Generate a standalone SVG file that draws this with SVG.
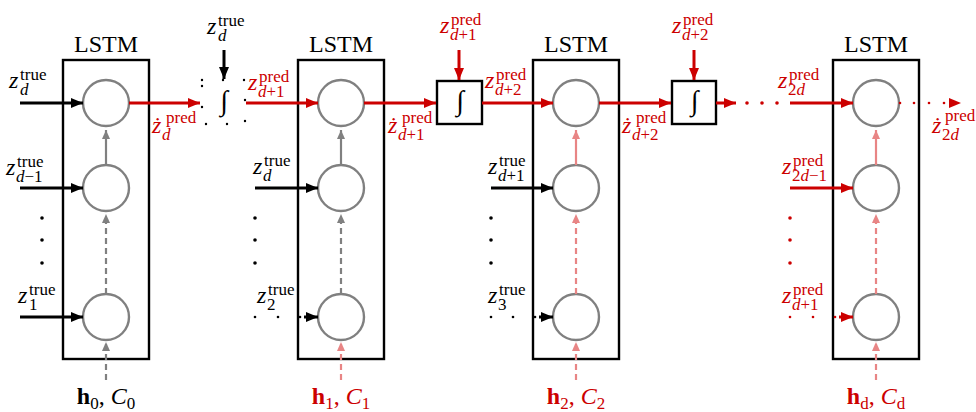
<svg xmlns="http://www.w3.org/2000/svg" width="976" height="412" viewBox="0 0 976 412">
<style>
text{font-family:"Liberation Serif","DejaVu Serif","Noto Serif",serif;fill:#000}
.t{font-size:24px}
.z{font-size:24px;font-style:italic}
.s{font-size:17px}
.i{font-style:italic}
.r{fill:#cc0000}
.box{fill:none;stroke:#000;stroke-width:2.4}
.cell{fill:#fff;stroke:#808080;stroke-width:2.4}
.bk{stroke:#000;stroke-width:3;fill:none}
.rd{stroke:#cc0000;stroke-width:3;fill:none}
.gy{stroke:#808080;stroke-width:2.2;fill:none}
.lr{stroke:#e88585;stroke-width:2.2;fill:none}
.da{stroke-dasharray:6 4}
.dotk{fill:#000}
.dotr{fill:#cc0000}
</style>
<defs>
<marker id="aK" markerUnits="userSpaceOnUse" markerWidth="13" markerHeight="11" refX="12" refY="5" orient="auto"><path d="M0,0 L12,5 L0,10 z" fill="#000"/></marker>
<marker id="aR" markerUnits="userSpaceOnUse" markerWidth="13" markerHeight="11" refX="12" refY="5" orient="auto"><path d="M0,0 L12,5 L0,10 z" fill="#cc0000"/></marker>
<marker id="aG" markerUnits="userSpaceOnUse" markerWidth="10" markerHeight="9" refX="9" refY="4" orient="auto"><path d="M0,0 L9,4 L0,8 z" fill="#808080"/></marker>
<marker id="aL" markerUnits="userSpaceOnUse" markerWidth="10" markerHeight="9" refX="9" refY="4" orient="auto"><path d="M0,0 L9,4 L0,8 z" fill="#e88585"/></marker>
</defs>

<g id="lstm1">
<text class="t" x="106" y="52" text-anchor="middle">LSTM</text>
<rect class="box" x="63" y="60" width="86" height="299"/>
<circle class="cell" cx="106" cy="103" r="23"/>
<circle class="cell" cx="106" cy="188" r="23"/>
<circle class="cell" cx="106" cy="317" r="23"/>
</g>
<g id="lstm2">
<text class="t" x="341" y="52" text-anchor="middle">LSTM</text>
<rect class="box" x="298" y="60" width="86" height="299"/>
<circle class="cell" cx="341" cy="103" r="23"/>
<circle class="cell" cx="341" cy="188" r="23"/>
<circle class="cell" cx="341" cy="317" r="23"/>
</g>
<g id="lstm3">
<text class="t" x="576" y="52" text-anchor="middle">LSTM</text>
<rect class="box" x="533" y="60" width="86" height="299"/>
<circle class="cell" cx="576" cy="103" r="23"/>
<circle class="cell" cx="576" cy="188" r="23"/>
<circle class="cell" cx="576" cy="317" r="23"/>
</g>
<g id="lstm4">
<text class="t" x="876" y="52" text-anchor="middle">LSTM</text>
<rect class="box" x="833" y="60" width="86" height="299"/>
<circle class="cell" cx="876" cy="103" r="23"/>
<circle class="cell" cx="876" cy="188" r="23"/>
<circle class="cell" cx="876" cy="317" r="23"/>
</g>

<g id="int1">
<rect x="202" y="80" width="43" height="44" fill="none" stroke="#000" stroke-width="2.4" stroke-linecap="round" stroke-dasharray="0 21"/>
<text x="224" y="110" font-size="28" font-style="italic" text-anchor="middle">∫</text>
</g>
<g id="int2">
<rect class="box" x="437" y="81" width="45" height="43"/>
<text x="460" y="110" font-size="28" font-style="italic" text-anchor="middle">∫</text>
</g>
<g id="int3">
<rect class="box" x="672" y="81" width="44" height="43"/>
<text x="694.5" y="110" font-size="28" font-style="italic" text-anchor="middle">∫</text>
</g>

<g id="connectors">
<line class="bk" x1="20" y1="103" x2="83" y2="103" marker-end="url(#aK)"/>
<line class="bk" x1="20" y1="188" x2="83" y2="188" marker-end="url(#aK)"/>
<line class="bk" x1="20" y1="317" x2="83" y2="317" marker-end="url(#aK)"/>
<line class="gy" x1="106" y1="165" x2="106" y2="130" marker-end="url(#aG)"/>
<line class="gy da" x1="106" y1="294" x2="106" y2="214" marker-end="url(#aG)"/>
<line class="gy da" x1="106" y1="380" x2="106" y2="342" marker-end="url(#aG)"/>
<line class="rd" x1="129" y1="103" x2="200" y2="103" marker-end="url(#aR)"/>
<line class="bk" x1="224" y1="50" x2="224" y2="79" marker-end="url(#aK)"/>
<line class="rd" x1="246" y1="103" x2="318" y2="103" marker-end="url(#aR)"/>
<line class="bk" x1="255" y1="188" x2="318" y2="188" marker-end="url(#aK)"/>
<line class="bk" x1="304" y1="317" x2="318" y2="317" marker-end="url(#aK)"/>
<line class="gy" x1="341" y1="165" x2="341" y2="130" marker-end="url(#aG)"/>
<line class="gy da" x1="341" y1="294" x2="341" y2="214" marker-end="url(#aG)"/>
<line class="lr da" x1="341" y1="380" x2="341" y2="342" marker-end="url(#aL)"/>
<line class="rd" x1="364" y1="103" x2="436" y2="103" marker-end="url(#aR)"/>
<line class="rd" x1="459" y1="50" x2="459" y2="80" marker-end="url(#aR)"/>
<line class="rd" x1="482" y1="103" x2="553" y2="103" marker-end="url(#aR)"/>
<line class="bk" x1="491" y1="188" x2="553" y2="188" marker-end="url(#aK)"/>
<line class="bk" x1="539" y1="317" x2="553" y2="317" marker-end="url(#aK)"/>
<line class="lr" x1="576" y1="165" x2="576" y2="130" marker-end="url(#aL)"/>
<line class="lr da" x1="576" y1="294" x2="576" y2="214" marker-end="url(#aL)"/>
<line class="lr da" x1="576" y1="380" x2="576" y2="342" marker-end="url(#aL)"/>
<line class="rd" x1="599" y1="103" x2="671" y2="103" marker-end="url(#aR)"/>
<line class="rd" x1="694" y1="50" x2="694" y2="80" marker-end="url(#aR)"/>
<line class="rd" x1="716" y1="103" x2="736" y2="103" marker-end="url(#aR)"/>
<circle class="dotr" cx="747" cy="103" r="1.8"/>
<circle class="dotr" cx="762" cy="103" r="1.8"/>
<circle class="dotr" cx="777" cy="103" r="1.8"/>
<line class="rd" x1="790" y1="103" x2="853" y2="103" marker-end="url(#aR)"/>
<line class="rd" x1="790" y1="188" x2="853" y2="188" marker-end="url(#aR)"/>
<line class="rd" x1="839" y1="317" x2="853" y2="317" marker-end="url(#aR)"/>
<line class="lr" x1="876" y1="165" x2="876" y2="130" marker-end="url(#aL)"/>
<line class="lr da" x1="876" y1="294" x2="876" y2="214" marker-end="url(#aL)"/>
<line class="lr da" x1="876" y1="380" x2="876" y2="342" marker-end="url(#aL)"/>
<circle class="dotr" cx="900" cy="103" r="1.3"/>
<circle class="dotr" cx="914" cy="103" r="1.3"/>
<circle class="dotr" cx="929" cy="103" r="1.3"/>
<circle class="dotr" cx="944" cy="103" r="1.3"/>
<path d="M949,98 L961,103 L949,108 z" fill="#cc0000"/>
<circle class="dotk" cx="255" cy="317" r="1.3"/>
<circle class="dotk" cx="278" cy="317" r="1.3"/>
<circle class="dotk" cx="300" cy="317" r="1.3"/>
<circle class="dotk" cx="491" cy="317" r="1.3"/>
<circle class="dotk" cx="513" cy="317" r="1.3"/>
<circle class="dotk" cx="535" cy="317" r="1.3"/>
<circle class="dotr" cx="790" cy="317" r="1.3"/>
<circle class="dotr" cx="813" cy="317" r="1.3"/>
<circle class="dotr" cx="835" cy="317" r="1.3"/>
<circle class="dotk" cx="42" cy="218" r="1.8"/><circle class="dotk" cx="42" cy="240" r="1.8"/><circle class="dotk" cx="42" cy="263" r="1.8"/>
<circle class="dotk" cx="255" cy="218" r="1.8"/><circle class="dotk" cx="255" cy="240" r="1.8"/><circle class="dotk" cx="255" cy="263" r="1.8"/>
<circle class="dotk" cx="491" cy="218" r="1.8"/><circle class="dotk" cx="491" cy="240" r="1.8"/><circle class="dotk" cx="491" cy="263" r="1.8"/>
<circle class="dotr" cx="790" cy="218" r="1.8"/><circle class="dotr" cx="790" cy="240" r="1.8"/><circle class="dotr" cx="790" cy="263" r="1.8"/>
</g>

<g id="labels">
<text class="z" x="9" y="88">z</text><text class="s" x="20" y="80">true</text><text class="s i" x="20" y="95">d</text>
<text class="z" x="207" y="34">z</text><text class="s" x="218" y="26">true</text><text class="s i" x="218" y="41">d</text>
<text class="z" x="6" y="175">z</text><text class="s" x="17" y="167">true</text><text class="s" x="16" y="182"><tspan class="i">d</tspan>−1</text>
<text class="z" x="253" y="174">z</text><text class="s" x="264" y="166">true</text><text class="s i" x="263" y="181">d</text>
<text class="z" x="488" y="174">z</text><text class="s" x="499" y="166">true</text><text class="s" x="498" y="181"><tspan class="i">d</tspan>+1</text>
<text class="z" x="18" y="303">z</text><text class="s" x="29" y="295">true</text><text class="s" x="29" y="310">1</text>
<text class="z" x="257" y="303">z</text><text class="s" x="268" y="295">true</text><text class="s" x="267" y="310">2</text>
<text class="z" x="488" y="303">z</text><text class="s" x="499" y="295">true</text><text class="s" x="498" y="310">3</text>
<text class="z r" x="440" y="33">z</text><text class="s r" x="451" y="25">pred</text><text class="s r" x="450" y="40"><tspan class="i">d</tspan>+1</text>
<text class="z r" x="672" y="33">z</text><text class="s r" x="683" y="25">pred</text><text class="s r" x="682" y="40"><tspan class="i">d</tspan>+2</text>
<text class="z r" x="248" y="90">z</text><text class="s r" x="259" y="82">pred</text><text class="s r" x="258" y="97"><tspan class="i">d</tspan>+1</text>
<text class="z r" x="485" y="88">z</text><text class="s r" x="496" y="80">pred</text><text class="s r" x="495" y="95"><tspan class="i">d</tspan>+2</text>
<text class="z r" x="778" y="88">z</text><text class="s r" x="789" y="80">pred</text><text class="s r" x="788" y="95">2<tspan class="i">d</tspan></text>
<text class="z r" x="782" y="174">z</text><text class="s r" x="793" y="166">pred</text><text class="s r" x="792" y="181">2<tspan class="i">d</tspan>−1</text>
<text class="z r" x="782" y="303">z</text><text class="s r" x="793" y="295">pred</text><text class="s r" x="792" y="310"><tspan class="i">d</tspan>+1</text>
<text class="z r" x="152" y="133">ż</text><text class="s r" x="166" y="123">pred</text><text class="s r i" x="162" y="140">d</text>
<text class="z r" x="388" y="133">ż</text><text class="s r" x="402" y="123">pred</text><text class="s r" x="398" y="140"><tspan class="i">d</tspan>+1</text>
<text class="z r" x="622" y="133">ż</text><text class="s r" x="636" y="123">pred</text><text class="s r" x="632" y="140"><tspan class="i">d</tspan>+2</text>
<text class="z r" x="932" y="133">ż</text><text class="s r" x="945" y="121">pred</text><text class="s r" x="942" y="140">2<tspan class="i">d</tspan></text>
<text class="t" x="106" y="404" text-anchor="middle"><tspan font-weight="bold">h</tspan><tspan class="s" dy="5">0</tspan><tspan dy="-5">, </tspan><tspan class="i">C</tspan><tspan class="s" dy="5">0</tspan></text>
<text class="t r" x="341" y="404" text-anchor="middle"><tspan font-weight="bold">h</tspan><tspan class="s" dy="5">1</tspan><tspan dy="-5">, </tspan><tspan class="i">C</tspan><tspan class="s" dy="5">1</tspan></text>
<text class="t r" x="576" y="404" text-anchor="middle"><tspan font-weight="bold">h</tspan><tspan class="s" dy="5">2</tspan><tspan dy="-5">, </tspan><tspan class="i">C</tspan><tspan class="s" dy="5">2</tspan></text>
<text class="t r" x="876" y="404" text-anchor="middle"><tspan font-weight="bold">h</tspan><tspan class="s" dy="5">d</tspan><tspan dy="-5">, </tspan><tspan class="i">C</tspan><tspan class="s" dy="5">d</tspan></text>
</g>
</svg>
